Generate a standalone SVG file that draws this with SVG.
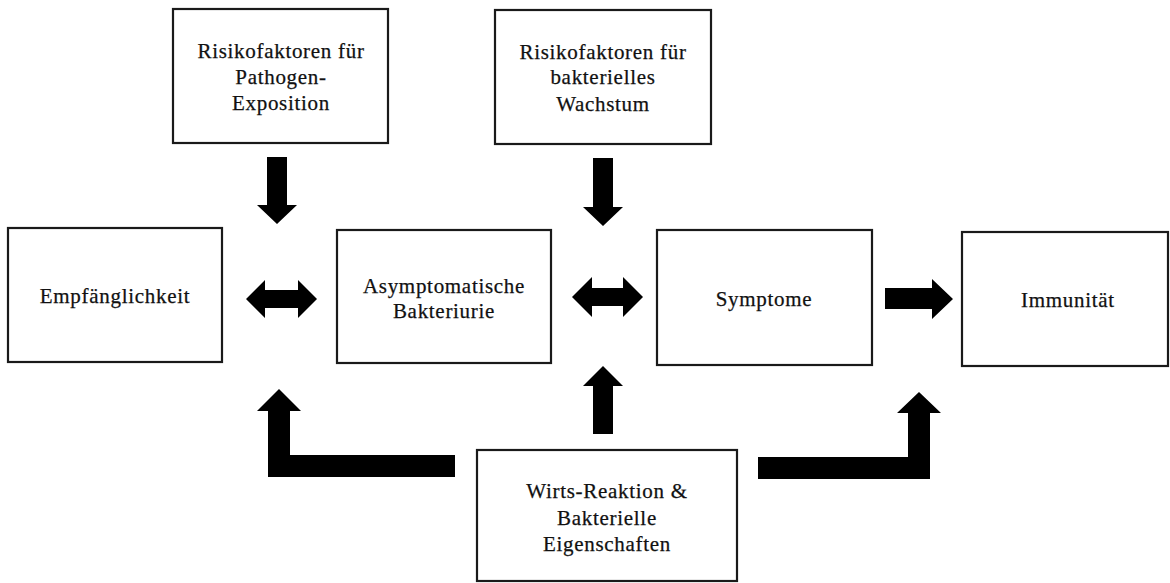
<svg xmlns="http://www.w3.org/2000/svg" width="1170" height="583" viewBox="0 0 1170 583">
<style>
.box{fill:#fff;stroke:#1a1a1a;stroke-width:2.2}
.t{font-family:"Liberation Serif","DejaVu Serif",serif;font-size:21px;fill:#111;text-anchor:middle;letter-spacing:0.7px;stroke:#111;stroke-width:0.25}
.arr{fill:#000}
</style>
<rect width="1170" height="583" fill="#fff"/>
<g id="connectors">
<path class="arr" d="M267,157 H287 V205 H297 L277,224 L257,205 H267 Z"/>
<path class="arr" d="M593,158 H613 V207 H623 L603,226 L583,207 H593 Z"/>
<path class="arr" d="M246,299 L265,280 V290 H298 V280 L317,299 L298,318 V308 H265 V318 Z"/>
<path class="arr" d="M572,297 L592,277 V288 H623 V277 L643,297 L623,317 V306 H592 V317 Z"/>
<path class="arr" d="M885,288 H932 V279 L953,299 L932,319 V309 H885 Z"/>
<path class="arr" d="M603,366 L623,386 H613 V434 H593 V386 H583 Z"/>
<path class="arr" d="M279,389 L301,411 H290 V455 H455 V477 H268 V411 H257 Z"/>
<path class="arr" d="M919,392 L941,413 H930 V479 H758 V457 H908 V413 H897 Z"/>
</g>
<g id="risiko-pathogen">
<rect class="box" x="173" y="9" width="215" height="134"/>
<text class="t" x="281" y="58">Risikofaktoren für</text>
<text class="t" x="281" y="84">Pathogen-</text>
<text class="t" x="281" y="110">Exposition</text>
</g>
<g id="risiko-wachstum">
<rect class="box" x="495" y="10" width="216" height="134"/>
<text class="t" x="603" y="59">Risikofaktoren für</text>
<text class="t" x="603" y="84">bakterielles</text>
<text class="t" x="603" y="111">Wachstum</text>
</g>
<g id="empfaenglichkeit">
<rect class="box" x="8" y="228" width="214" height="134"/>
<text class="t" x="115" y="303">Empfänglichkeit</text>
</g>
<g id="asymptomatische">
<rect class="box" x="337" y="230" width="214" height="133"/>
<text class="t" x="444" y="293">Asymptomatische</text>
<text class="t" x="444" y="318">Bakteriurie</text>
</g>
<g id="symptome">
<rect class="box" x="657" y="230" width="215" height="135"/>
<text class="t" x="764" y="306">Symptome</text>
</g>
<g id="immunitaet">
<rect class="box" x="962" y="232" width="206" height="134"/>
<text class="t" x="1068" y="307">Immunität</text>
</g>
<g id="wirts-reaktion">
<rect class="box" x="477" y="450" width="260" height="131"/>
<text class="t" x="607" y="498">Wirts-Reaktion &amp;</text>
<text class="t" x="607" y="525">Bakterielle</text>
<text class="t" x="607" y="551">Eigenschaften</text>
</g>
</svg>
